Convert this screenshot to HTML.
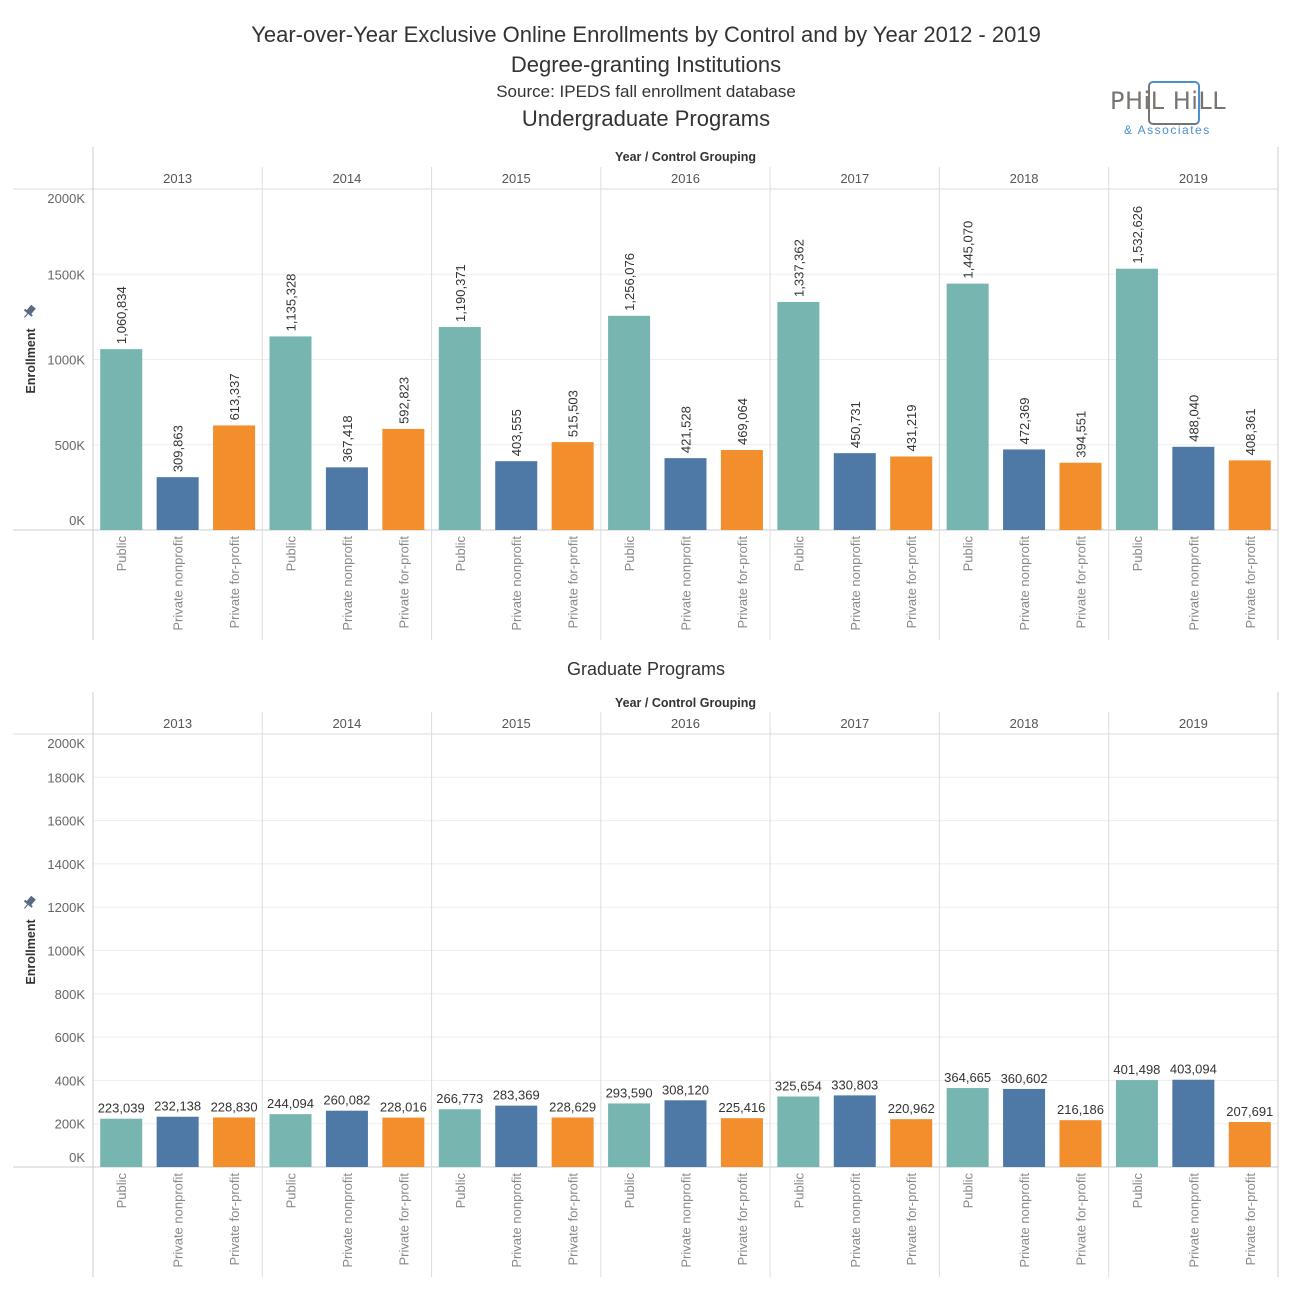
<!DOCTYPE html>
<html><head><meta charset="utf-8">
<style>
body{margin:0;background:#fff;font-family:"Liberation Sans",sans-serif;}
#wrap{position:relative;width:1292px;height:1292px;overflow:hidden;}
.t{position:absolute;left:0;width:1292px;text-align:center;color:#333;}
</style></head><body>
<div id="wrap">
<div class="t" style="top:22px;font-size:22px;">Year-over-Year Exclusive Online Enrollments by Control and by Year 2012 - 2019</div>
<div class="t" style="top:52px;font-size:22px;">Degree-granting Institutions</div>
<div class="t" style="top:82px;font-size:17px;">Source: IPEDS fall enrollment database</div>
<div class="t" style="top:106px;font-size:22px;">Undergraduate Programs</div>
<div class="t" style="top:659px;font-size:18px;">Graduate Programs</div>
<div style="position:absolute;left:1108px;top:80px;width:130px;height:60px;">
<div style="position:absolute;left:40px;top:1px;width:48px;height:40px;border:2px solid #4a90d0;border-radius:5px;border-bottom-color:#7a7470;border-left-color:#7a7470;"></div>
<div style="position:absolute;left:2px;top:7px;font-size:24px;color:#7a7470;letter-spacing:0.5px;white-space:nowrap;font-family:'DejaVu Sans',sans-serif;">PHiL HiLL</div>
<div style="position:absolute;left:16px;top:43px;font-size:12px;color:#4a90d0;letter-spacing:1.5px;white-space:nowrap;">&amp; Associates</div>
</div>
<svg id="chart" width="1292" height="1292" style="position:absolute;left:0;top:0;"></svg>
</div>
<script>
const years=["2013","2014","2015","2016","2017","2018","2019"];
const categories=["Public","Private nonprofit","Private for-profit"];
const ugPublic=[1060834,1135328,1190371,1256076,1337362,1445070,1532626];
const ugNonprofit=[309863,367418,403555,421528,450731,472369,488040];
const ugForprofit=[613337,592823,515503,469064,431219,394551,408361];
const gPublic=[223039,244094,266773,293590,325654,364665,401498];
const gNonprofit=[232138,260082,283369,308120,330803,360602,403094];
const gForprofit=[228830,228016,228629,225416,220962,216186,207691];
const ugTicks=[0,500000,1000000,1500000,2000000];
const gTicks=[0,200000,400000,600000,800000,1000000,1200000,1400000,1600000,1800000,2000000];
const colors=["#76b5b0","#4e79a7","#f28e2b"];
const NS="http://www.w3.org/2000/svg";
const svg=document.getElementById('chart');
function mk(tag,attrs,parent){const e=document.createElementNS(NS,tag);for(const k in attrs)e.setAttribute(k,attrs[k]);(parent||svg).appendChild(e);return e;}
function fmt(v){return v.toLocaleString('en-US');}
const X0=93,X1=1278,colW=(X1-X0)/7;
function panel(cfg){
  const g=mk('g',{});
  
  
  const y=v=>cfg.base-(v/2000000)*(cfg.base-cfg.top);
  cfg.ticks.forEach((t,i)=>{
    const yy=y(t);
    if(t>0&&t<2000000){const l=mk('line',{x1:X0,x2:X1,y1:yy,y2:yy,stroke:'#eeeeee','stroke-width':1},g);
      }
    let ly=yy+5; if(t===0) ly=yy-5; if(t===2000000) ly=yy+14;
    const tx=mk('text',{x:85,y:ly,'text-anchor':'end','font-size':13,fill:'#666'},g);
    tx.textContent=(t/1000)+'K';
    
  });
  const hd=mk('text',{x:(X0+X1)/2,y:cfg.hdrY,'text-anchor':'middle','font-size':12.5,'font-weight':'bold',fill:'#333'},g);
  hd.textContent='Year / Control Grouping';
  
  mk('line',{x1:13,x2:X1,y1:cfg.top,y2:cfg.top,stroke:'#ddd'},g);
  mk('line',{x1:13,x2:X1,y1:cfg.base,y2:cfg.base,stroke:'#ccc'},g);
  mk('line',{x1:X0,x2:X0,y1:cfg.top-42,y2:cfg.bottom,stroke:'#ccc'},g);
  mk('line',{x1:X1,x2:X1,y1:cfg.top-42,y2:cfg.bottom,stroke:'#ccc'},g);
  const yt=mk('text',{x:0,y:0,'text-anchor':'middle','font-size':12.5,'font-weight':'bold',fill:'#333',transform:`translate(35,${cfg.ytY}) rotate(-90)`},g);
  yt.textContent='Enrollment';
  
  const pin=mk('g',{transform:`translate(29,${cfg.ytY-49}) rotate(40)`},g);
  
  mk('rect',{x:-3,y:-7,width:6,height:8,fill:'#5a6a80'},pin);
  mk('rect',{x:-5,y:0,width:10,height:2,fill:'#5a6a80'},pin);
  mk('line',{x1:0,y1:2,x2:0,y2:7,stroke:'#5a6a80','stroke-width':1.2},pin);
  const series=[cfg.a,cfg.b,cfg.c];
  years.forEach((yr,i)=>{
    const cx=X0+i*colW;
    if(i>0){mk('line',{x1:cx,x2:cx,y1:cfg.top-22,y2:cfg.bottom,stroke:'#ddd'},g);}
    const yl=mk('text',{x:cx+colW/2,y:cfg.top-6,'text-anchor':'middle','font-size':13,fill:'#555'},g);
    yl.textContent=yr;
    
    categories.forEach((c,j)=>{
      const v=series[j][i];
      const bx=cx+colW/6*(2*j+1);
      const r=mk('rect',{x:bx-21,y:y(v),width:42,height:cfg.base-y(v),fill:colors[j]},g);
      
      let lt;
      if(cfg.rot){lt=mk('text',{x:0,y:0,'font-size':13,fill:'#333',transform:`translate(${bx+5},${y(v)-5}) rotate(-90)`},g);}
      else{lt=mk('text',{x:bx,y:y(v)-6,'text-anchor':'middle','font-size':13,fill:'#333'},g);}
      lt.textContent=fmt(v);
      
      const cl=mk('text',{x:0,y:0,'text-anchor':'end','font-size':13,fill:'#888',transform:`translate(${bx+5},${cfg.base+6}) rotate(-90)`},g);
      cl.textContent=c;
      
    });
  });
}
panel({name:'undergrad-chart',top:189,base:530,bottom:640,hdrY:161,ytY:361,ticks:ugTicks,a:ugPublic,b:ugNonprofit,c:ugForprofit,rot:true});
panel({name:'grad-chart',top:734,base:1167,bottom:1277,hdrY:707,ytY:952,ticks:gTicks,a:gPublic,b:gNonprofit,c:gForprofit,rot:false});
</script>
</body></html>
